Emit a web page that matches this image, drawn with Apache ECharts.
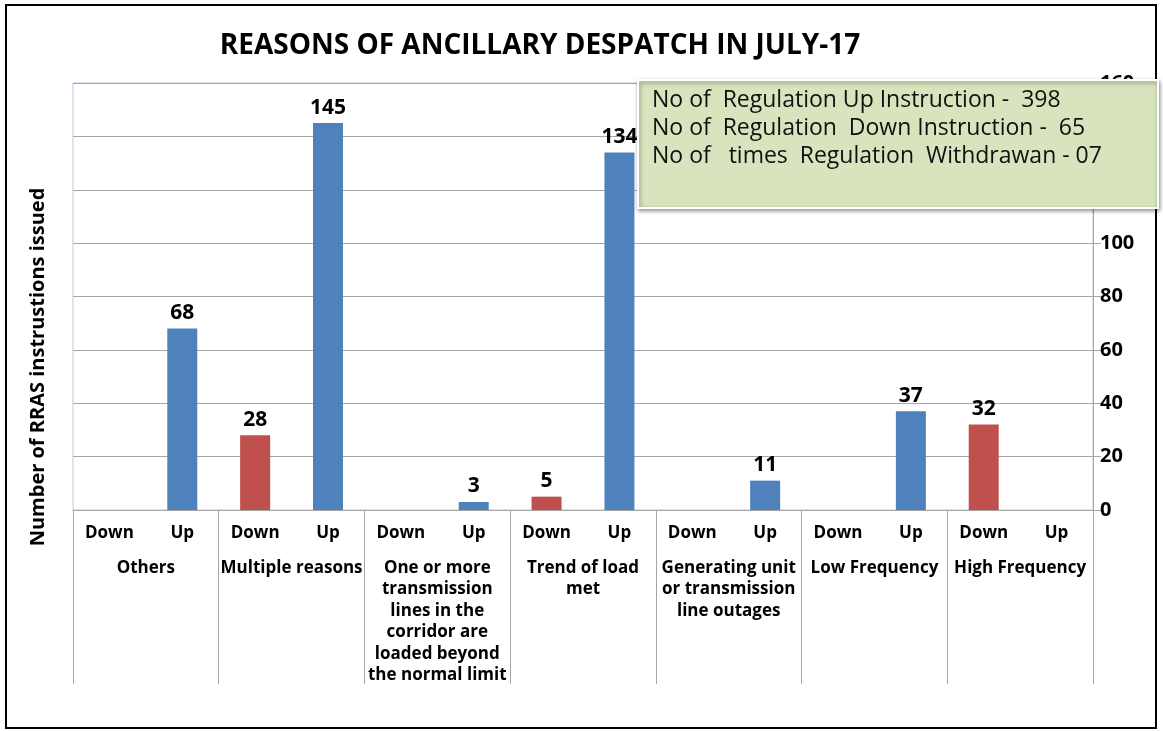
<!DOCTYPE html>
<html>
<head>
<meta charset="utf-8">
<script src="https://cdn.jsdelivr.net/npm/echarts@6/dist/echarts.min.js"></script>
<style>
  html, body { margin: 0; padding: 0; background: #fff; }
  #chart { width: 1163px; height: 731px; }
</style>
</head>
<body>
<div id="chart"></div>
<script>
// groups of reasons, each split into Down / Up
const groups = [
  'Others',
  'Multiple reasons',
  'One or more\ntransmission\nlines in the\ncorridor are\nloaded beyond\nthe normal limit',
  'Trend of load\nmet',
  'Generating unit\nor transmission\nline outages',
  'Low Frequency',
  'High Frequency'
];
const sides = ['Down', 'Up'];
const downValues = [null, 28, null, 5, null, null, 32];
const upValues = [68, 145, 3, 134, 11, 37, null];
const yTicks = { min: 0, max: 160, interval: 20 };
const noteLines = [
  'No of  Regulation Up Instruction -  398',
  'No of  Regulation  Down Instruction -  65',
  'No of   times  Regulation  Withdrawan - 07'
];

// flatten to 14 slots
const slots = [];
const downData = [];
const upData = [];
groups.forEach((g, i) => {
  slots.push(sides[0], sides[1]);
  downData.push(downValues[i], null);
  upData.push(null, upValues[i]);
});

const FONT = '"Open Sans", Lato, sans-serif';
const chart = echarts.init(document.getElementById('chart'));

const barLabel = {
  show: true,
  position: 'top',
  distance: 5,
  fontFamily: FONT,
  fontWeight: 'bold',
  fontSize: 21,
  color: '#000'
};

const option = {
  animation: false,
  title: {
    text: 'REASONS OF ANCILLARY DESPATCH IN JULY-17',
    left: 535,
    textAlign: 'center',
    top: 27,
    textStyle: { fontFamily: FONT, fontWeight: 'bold', fontSize: 28, color: '#000' }
  },
  grid: {
    left: 73, right: 70, top: 83, bottom: 221,
    show: true, borderColor: '#b9cde5', borderWidth: 1
  },
  xAxis: [
    {
      type: 'category',
      data: slots,
      axisLine: { lineStyle: { color: '#a6a6a6' } },
      axisTick: { show: false },
      axisLabel: {
        interval: 0, margin: 15,
        fontFamily: FONT, fontWeight: 'bold', fontSize: 17, color: '#000'
      }
    },
    {
      type: 'category',
      data: groups,
      position: 'bottom',
      axisLine: { show: false },
      axisTick: { show: true, interval: 0, length: 174, lineStyle: { color: '#a6a6a6' } },
      axisLabel: {
        interval: 0, margin: 47, lineHeight: 21.5,
        fontFamily: FONT, fontWeight: 'bold', fontSize: 17, color: '#000'
      }
    }
  ],
  yAxis: {
    type: 'value',
    position: 'right',
    min: yTicks.min, max: yTicks.max, interval: yTicks.interval,
    axisLine: { show: true, lineStyle: { color: '#a6a6a6' } },
    axisTick: { show: true, length: 8, lineStyle: { color: '#a6a6a6' } },
    axisLabel: { margin: 7, fontFamily: FONT, fontWeight: 'bold', fontSize: 20, color: '#000' },
    splitLine: { lineStyle: { color: '#a6a6a6' } }
  },
  series: [
    {
      name: 'Down',
      type: 'bar',
      data: downData,
      barWidth: 30,
      barGap: '-100%',
      itemStyle: { color: '#c0504d' },
      label: barLabel
    },
    {
      name: 'Up',
      type: 'bar',
      data: upData,
      barWidth: 30,
      itemStyle: { color: '#4f81bd' },
      label: barLabel
    }
  ],
  graphic: [
    {
      type: 'rect', z: 0,
      shape: { x: 6, y: 5, width: 1150, height: 723 },
      style: { fill: 'none', stroke: '#000', lineWidth: 2 }
    },
    {
      type: 'text', z: 10,
      x: 38, y: 367, rotation: Math.PI / 2,
      style: {
        text: 'Number of RRAS instrustions issued',
        font: 'bold 20px ' + FONT,
        fill: '#000',
        textAlign: 'center',
        textVerticalAlign: 'middle'
      }
    },
    {
      type: 'rect', z: 20,
      shape: { x: 638, y: 80, width: 520, height: 128 },
      style: {
        fill: '#d7e4bd', stroke: '#fff', lineWidth: 2,
        shadowBlur: 4, shadowOffsetX: 1, shadowOffsetY: 2, shadowColor: 'rgba(0,0,0,0.4)'
      }
    },
    ...noteLines.map((t, i) => ({
      type: 'text', z: 21,
      x: 652, y: 100 + i * 28,
      style: { text: t, font: '23px ' + FONT, fill: '#111', textVerticalAlign: 'middle' }
    }))
  ]
};

chart.setOption(option);
</script>
</body>
</html>
